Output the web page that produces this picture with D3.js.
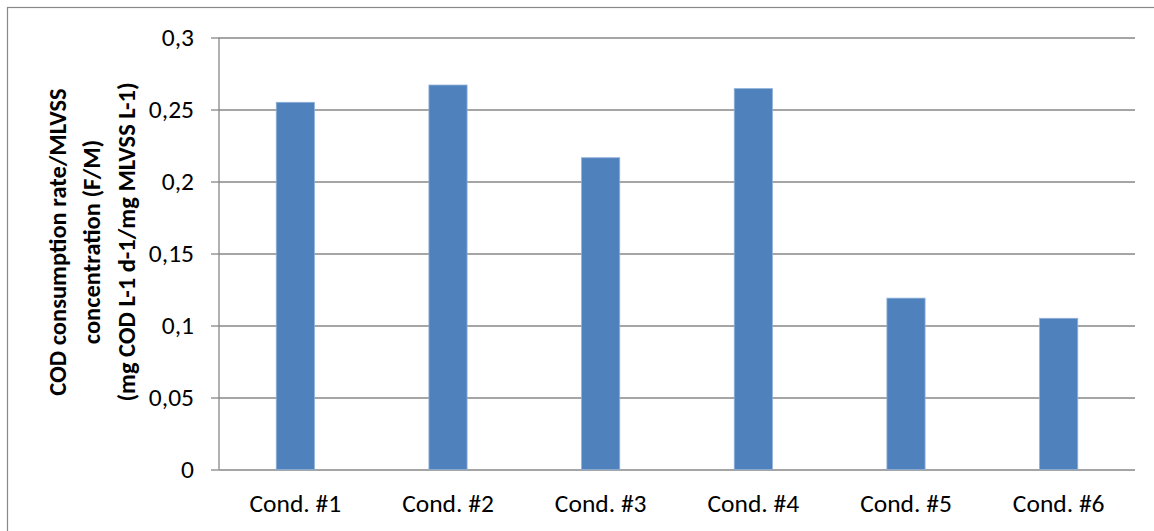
<!DOCTYPE html>
<html>
<head>
<meta charset="utf-8">
<script src="https://cdn.jsdelivr.net/npm/d3@7"></script>
<style>
  html, body { margin: 0; padding: 0; background: #fff; }
  svg { display: block; }
  text { font-family: Carlito, Calibri, Lato, sans-serif; fill: #000; }
</style>
</head>
<body>
<svg id="chart" width="1154" height="531"></svg>
<script>
// F/M ratio per operating condition
const categories = ["Cond. #1", "Cond. #2", "Cond. #3", "Cond. #4", "Cond. #5", "Cond. #6"];
const fmValues = [0.255, 0.267, 0.2165, 0.2645, 0.119, 0.105];
const yTicks = [0, 0.05, 0.1, 0.15, 0.2, 0.25, 0.3];
const yTickLabels = ["0", "0,05", "0,1", "0,15", "0,2", "0,25", "0,3"];
const yTitleLines = [
  "COD consumption rate/MLVSS",
  "concentration (F/M)",
  "(mg COD L-1 d-1/mg MLVSS L-1)"
];

const svg = d3.select("#chart");
const plot = { left: 219, right: 1135, top: 37.5, bottom: 469.5 };
const gridColor = "#878787";
const labelSize = 25.5;

// chart frame
svg.append("rect")
  .attr("x", 7.5).attr("y", 7.5)
  .attr("width", 1200).attr("height", 600)
  .attr("fill", "none").attr("stroke", gridColor).attr("stroke-width", 1.2);

const x = d3.scaleBand().domain(categories).range([plot.left, plot.right]).paddingInner(0).paddingOuter(0);
const y = d3.scaleLinear().domain([0, 0.3]).range([plot.bottom, plot.top]);

// horizontal gridlines with short outer ticks
const yAxis = d3.axisLeft(y)
  .tickValues(yTicks)
  .tickFormat((d, i) => yTickLabels[i])
  .tickSize(-(plot.right - plot.left))
  .tickPadding(25);

const gy = svg.append("g").attr("transform", `translate(${plot.left},0)`).call(yAxis);
gy.select(".domain").remove();
gy.selectAll(".tick line").attr("stroke", gridColor).attr("stroke-width", 1.3);
gy.selectAll(".tick").append("line")
  .attr("x1", -8).attr("x2", 0)
  .attr("stroke", gridColor).attr("stroke-width", 1.3);
gy.selectAll(".tick text").attr("font-size", labelSize).attr("fill", "#000");

// vertical axis line
svg.append("line")
  .attr("x1", plot.left).attr("x2", plot.left)
  .attr("y1", plot.top).attr("y2", plot.bottom)
  .attr("stroke", gridColor).attr("stroke-width", 1.3);

// bars
const barW = x.bandwidth() * 0.25;
svg.append("g").selectAll("rect")
  .data(fmValues)
  .join("rect")
  .attr("x", (d, i) => x(categories[i]) + (x.bandwidth() - barW) / 2)
  .attr("y", d => y(d))
  .attr("width", barW)
  .attr("height", d => y(0) - y(d))
  .attr("fill", "#4F81BD")
  .attr("stroke", "#8fb0d9")
  .attr("stroke-width", 0.8);

// category labels
const xAxis = d3.axisBottom(x).tickSize(0).tickPadding(0);
const gx = svg.append("g").attr("transform", `translate(0,${plot.bottom})`).call(xAxis);
gx.select(".domain").remove();
gx.selectAll(".tick text")
  .attr("font-size", labelSize).attr("fill", "#000")
  .attr("dy", null).attr("y", 42);

// y-axis title, three stacked lines
const title = svg.append("text")
  .attr("transform", "translate(57,242) rotate(-90)")
  .attr("text-anchor", "middle")
  .attr("font-weight", "bold")
  .attr("font-size", 24.5);
title.selectAll("tspan")
  .data(yTitleLines)
  .join("tspan")
  .attr("x", 0)
  .attr("y", (d, i) => i * 34.5)
  .attr("dy", "0.35em")
  .text(d => d);
</script>
</body>
</html>
